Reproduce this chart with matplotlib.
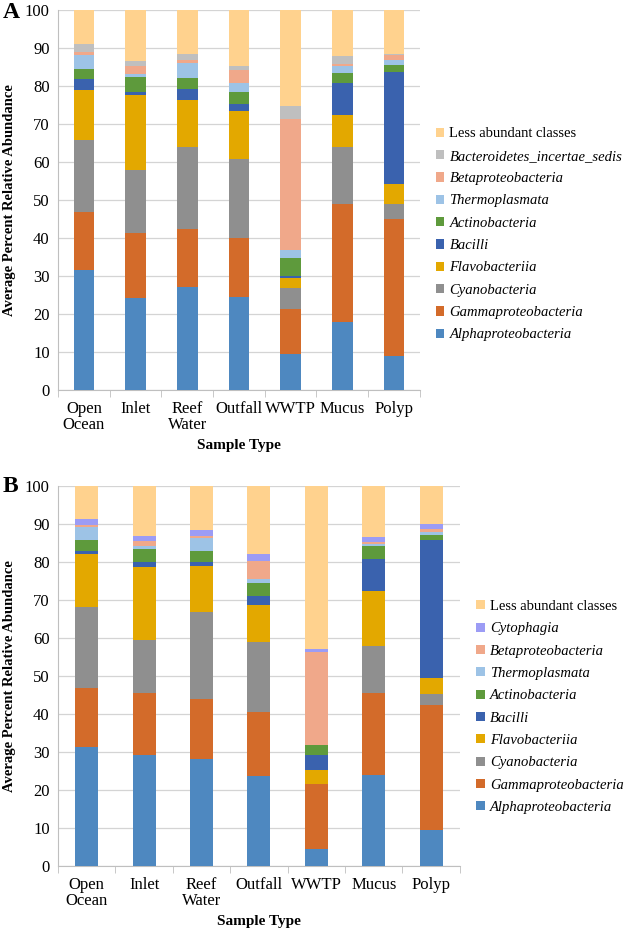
import numpy as np
import matplotlib
matplotlib.use('Agg')
import matplotlib.pyplot as plt

plt.rcParams['font.family'] = ['Liberation Serif', 'DejaVu Serif']

samples = ['Open\nOcean', 'Inlet', 'Reef\nWater', 'Outfall', 'WWTP', 'Mucus', 'Polyp']

# panel A (bottom -> top)
classes_a = ['Alphaproteobacteria', 'Gammaproteobacteria', 'Cyanobacteria', 'Flavobacteriia',
             'Bacilli', 'Actinobacteria', 'Thermoplasmata', 'Betaproteobacteria',
             'Bacteroidetes_incertae_sedis', 'Less abundant classes']
alpha_a = [31.6, 24.3, 27.0, 24.6, 9.5, 17.8, 9.0]
gamma_a = [15.3, 17.1, 15.4, 15.5, 11.8, 31.1, 35.9]
cyano_a = [18.9, 16.5, 21.6, 20.6, 5.5, 15.1, 4.0]
flavo_a = [13.1, 19.7, 12.3, 12.8, 2.6, 8.5, 5.3]
bacilli_a = [2.9, 0.9, 2.8, 1.8, 0.6, 8.4, 29.6]
actino_a = [2.8, 4.0, 3.1, 3.2, 4.8, 2.6, 1.7]
thermo_a = [3.7, 0.8, 3.8, 2.2, 2.0, 1.8, 1.3]
beta_a = [0.7, 2.1, 0.8, 3.5, 34.4, 0.6, 1.4]
bacteroid_a = [2.0, 1.2, 1.7, 1.2, 3.5, 2.1, 0.3]
less_a = [9.0, 13.4, 11.5, 14.6, 25.3, 12.0, 11.5]

# panel B (bottom -> top)
classes_b = ['Alphaproteobacteria', 'Gammaproteobacteria', 'Cyanobacteria', 'Flavobacteriia',
             'Bacilli', 'Actinobacteria', 'Thermoplasmata', 'Betaproteobacteria',
             'Cytophagia', 'Less abundant classes']
alpha_b = [31.3, 29.3, 28.1, 23.6, 4.6, 23.9, 9.6]
gamma_b = [15.6, 16.1, 15.9, 17.0, 16.9, 21.7, 32.7]
cyano_b = [21.3, 14.0, 22.8, 18.4, 0.1, 12.3, 2.9]
flavo_b = [13.8, 19.4, 12.2, 9.7, 3.6, 14.4, 4.4]
bacilli_b = [1.0, 1.2, 0.9, 2.4, 3.9, 8.4, 36.2]
actino_b = [2.7, 3.3, 3.1, 3.3, 2.7, 3.5, 1.2]
thermo_b = [3.4, 0.9, 3.4, 1.1, 0.1, 0.5, 0.8]
beta_b = [0.6, 1.4, 0.5, 4.8, 24.4, 0.6, 0.8]
cyto_b = [1.6, 1.2, 1.6, 1.7, 0.9, 1.3, 1.3]
less_b = [8.7, 13.2, 11.5, 18.0, 42.8, 13.4, 10.1]

colors = {
    'Alphaproteobacteria': '#4E88C0',
    'Gammaproteobacteria': '#D36B2A',
    'Cyanobacteria': '#8F8F8F',
    'Flavobacteriia': '#E3A800',
    'Bacilli': '#3A62AE',
    'Actinobacteria': '#5E9A3C',
    'Thermoplasmata': '#9DC3E6',
    'Betaproteobacteria': '#F0A88A',
    'Bacteroidetes_incertae_sedis': '#BFBFBF',
    'Cytophagia': '#9C9CF5',
    'Less abundant classes': '#FFD28E',
}


def draw_panel(ax, classes, series, letter, letter_y, leg_anchor, ylab_x):
    x = np.arange(len(samples))
    bottom = np.zeros(len(samples))
    for name, vals in zip(classes, series):
        ax.bar(x, vals, 0.4, bottom=bottom, color=colors[name], label=name, zorder=3)
        bottom += np.array(vals)
    ax.set_ylim(0, 100)
    ax.set_xlim(-0.5, len(samples) - 0.5)
    ax.set_yticks(np.arange(0, 101, 10))
    ax.yaxis.grid(True, color='#d4d4d4', linewidth=0.9, zorder=0)
    ax.set_axisbelow(True)
    ax.set_xticks(x)
    ax.set_xticklabels(samples, fontsize=12, linespacing=1.0)
    ax.set_xticks(np.arange(-0.5, len(samples), 1.0), minor=True)
    ax.tick_params(axis='x', which='major', length=0, pad=8)
    ax.tick_params(axis='x', which='minor', length=5, color='#bfbfbf', direction='out')
    ax.tick_params(axis='y', length=0, labelsize=12, pad=6)
    for s in ['top', 'right']:
        ax.spines[s].set_visible(False)
    for s in ['left', 'bottom']:
        ax.spines[s].set_color('#bfbfbf')
    ax.set_ylabel('Average Percent Relative Abundance', fontsize=10.5, fontweight='bold')
    ax.yaxis.set_label_coords(ylab_x, 0.5)
    ax.set_xlabel('Sample Type', fontsize=11, fontweight='bold', labelpad=4)
    fig.text(0.004, letter_y, letter, fontsize=17, fontweight='bold', va='center', ha='left')
    h, l = ax.get_legend_handles_labels()
    leg = fig.legend(h[::-1], l[::-1], loc='center left', bbox_to_anchor=leg_anchor,
                     frameon=False, fontsize=10.5, handlelength=0.6, handleheight=0.6,
                     handletextpad=0.35, labelspacing=0.64, borderpad=0, borderaxespad=0)
    for t in leg.get_texts():
        if t.get_text() != 'Less abundant classes':
            t.set_fontstyle('italic')


fig = plt.figure(figsize=(6.25, 9.3), dpi=100)
ax_a = fig.add_axes([0.0928, 0.5806, 0.579, 0.4086])
ax_b = fig.add_axes([0.0928, 0.0688, 0.643, 0.4086])

draw_panel(ax_a, classes_a,
           [alpha_a, gamma_a, cyano_a, flavo_a, bacilli_a, actino_a, thermo_a, beta_a, bacteroid_a, less_a],
           'A', 1 - 12 / 930, (0.697, 0.748), -0.116)
draw_panel(ax_b, classes_b,
           [alpha_b, gamma_b, cyano_b, flavo_b, bacilli_b, actino_b, thermo_b, beta_b, cyto_b, less_b],
           'B', 1 - 486 / 930, (0.762, 0.2398), -0.105)

fig.savefig('out.png', dpi=100)
